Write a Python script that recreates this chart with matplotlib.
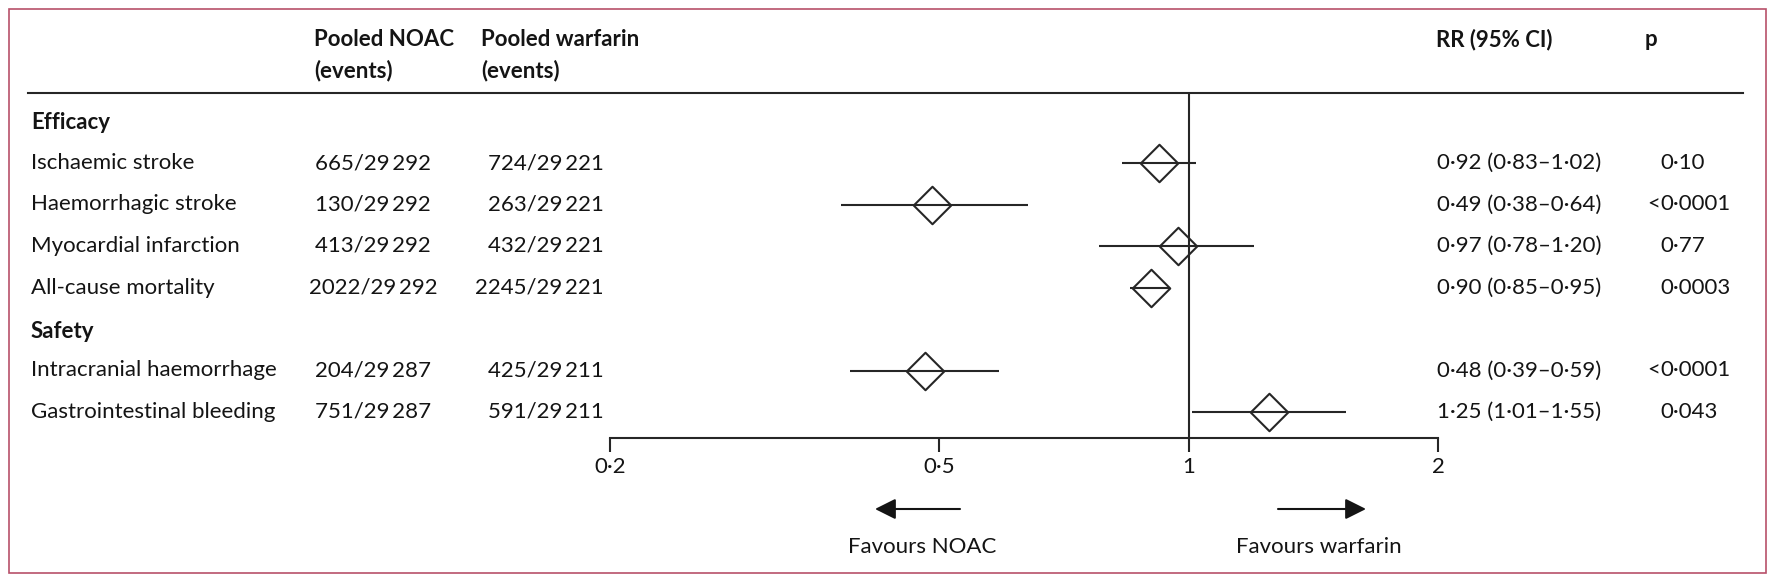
import matplotlib
matplotlib.use("Agg")
import matplotlib.pyplot as plt
from matplotlib.path import Path
from matplotlib.transforms import Affine2D
from matplotlib.lines import Line2D
from matplotlib.patches import Rectangle, FancyArrowPatch

# ---- data -------------------------------------------------------------
outcomes = ["Ischaemic stroke", "Haemorrhagic stroke", "Myocardial infarction",
            "All-cause mortality", "Intracranial haemorrhage",
            "Gastrointestinal bleeding"]
sections = ["Efficacy", "Safety"]
section_of = [0, 0, 0, 0, 1, 1]
noac_events = [665, 130, 413, 2022, 204, 751]
noac_totals = [29292, 29292, 29292, 29292, 29287, 29287]
warf_events = [724, 263, 432, 2245, 425, 591]
warf_totals = [29221, 29221, 29221, 29221, 29211, 29211]
rr = [0.92, 0.49, 0.97, 0.90, 0.48, 1.25]
ci_low = [0.83, 0.38, 0.78, 0.85, 0.39, 1.01]
ci_high = [1.02, 0.64, 1.20, 0.95, 0.59, 1.55]
p_values = ["0·10", "<0·0001", "0·77", "0·0003", "<0·0001", "0·043"]
x_ticks = [0.2, 0.5, 1, 2]
x_tick_labels = ["0·2", "0·5", "1", "2"]

# ---- styling ----------------------------------------------------------
W, H, DPI = 1775, 583, 100
INK = "#141414"
LINE = "#262626"
FRAME = "#b8506a"
FS = 16
plt.rcParams["font.family"] = ["Lato", "DejaVu Sans"]
plt.rcParams["text.color"] = INK


def dec(v):
    return f"{v:.2f}".replace(".", "·")


def count(n):
    s = str(n)
    if len(s) >= 5:
        return s[:-3] + "\u2009" + s[-3:]
    return s


fig = plt.figure(figsize=(W / DPI, H / DPI), dpi=DPI)
# pixel coordinates measured from the top-left corner of the figure
px = Affine2D().scale(1 / W, -1 / H).translate(0, 1) + fig.transFigure

# row layout: slot s sits at y = Y0 + STEP * s (pixels)
Y0, STEP = 121.5, 41.5
AX_TOP, AX_BOT = 93, 438
X02, X2 = 610, 1438
row_slots = [1, 2, 3, 4, 6, 7]
section_slots = [0, 5]


def slot_px(s):
    return Y0 + STEP * s


ax = fig.add_axes([X02 / W, 1 - AX_BOT / H, (X2 - X02) / W, (AX_BOT - AX_TOP) / H])
ax.set_xscale("log")
ax.set_xlim(0.2, 2)
ax.set_ylim((AX_BOT - Y0) / STEP, (AX_TOP - Y0) / STEP)
for side in ("top", "left", "right"):
    ax.spines[side].set_visible(False)
ax.spines["bottom"].set_color(LINE)
ax.spines["bottom"].set_linewidth(1.5)
ax.set_xticks(x_ticks)
ax.set_xticklabels(x_tick_labels, fontsize=FS)
ax.xaxis.set_minor_locator(matplotlib.ticker.NullLocator())
ax.tick_params(axis="x", direction="out", length=10, width=1.5, color=LINE,
               pad=4, labelcolor=INK)
ax.set_yticks([])
ax.patch.set_alpha(0)

# line of no effect
ax.axvline(1, color=LINE, lw=1.5, zorder=1)

diamond = Path([(0, 1), (1, 0), (0, -1), (-1, 0), (0, 1)],
               [Path.MOVETO, Path.LINETO, Path.LINETO, Path.LINETO, Path.CLOSEPOLY])
for i in range(len(outcomes)):
    y = row_slots[i]
    ax.plot([ci_low[i], ci_high[i]], [y, y], color=LINE, lw=1.5,
            solid_capstyle="butt", zorder=2)
    ax.plot([rr[i]], [y], marker=diamond, ms=27, mfc="none", mec=LINE,
            mew=1.5, zorder=3, clip_on=False)

# ---- table text -------------------------------------------------------
X_LABEL, X_NOAC, X_WARF_R, X_RR, X_P = 31, 373, 604, 1519, 1660
for txt, x, y in [("Pooled NOAC", 314, 40), ("(events)", 314, 71),
                  ("Pooled warfarin", 481, 40), ("(events)", 481, 71),
                  ("RR (95% CI)", 1436, 40), ("p", 1645, 40)]:
    fig.text(x, y, txt, transform=px, fontsize=FS, fontweight="bold",
             ha="left", va="center")

for name, s in zip(sections, section_slots):
    fig.text(X_LABEL, slot_px(s) + (1 if s == 0 else 3), name, transform=px,
             fontsize=FS, fontweight="bold", ha="left", va="center")

for i, name in enumerate(outcomes):
    y = slot_px(row_slots[i])
    fig.text(X_LABEL, y, name, transform=px, fontsize=FS, ha="left", va="center")
    fig.text(X_NOAC, y, f"{count(noac_events[i])}/{count(noac_totals[i])}",
             transform=px, fontsize=FS, ha="center", va="center")
    fig.text(X_WARF_R, y, f"{count(warf_events[i])}/{count(warf_totals[i])}",
             transform=px, fontsize=FS, ha="right", va="center")
    fig.text(X_RR, y, f"{dec(rr[i])} ({dec(ci_low[i])}–{dec(ci_high[i])})",
             transform=px, fontsize=FS, ha="center", va="center")
    p = p_values[i]
    if p.startswith("<"):
        fig.text(X_P, y, "<", transform=px, fontsize=FS, ha="right", va="center")
        p = p[1:]
    fig.text(X_P, y, p, transform=px, fontsize=FS, ha="left", va="center")

# header rule
fig.add_artist(Line2D([28, 1743], [AX_TOP, AX_TOP], transform=px,
                      color=LINE, lw=1.5))

# direction arrows
arrow_kw = dict(arrowstyle="-|>,head_length=0.9,head_width=0.45",
                mutation_scale=14, color=INK, lw=1.5, shrinkA=0, shrinkB=0)
fig.add_artist(FancyArrowPatch((960, 509), (875, 509), transform=px, **arrow_kw))
fig.add_artist(FancyArrowPatch((1278, 509), (1366, 509), transform=px, **arrow_kw))
fig.text(922, 547, "Favours NOAC", transform=px, fontsize=FS, ha="center", va="center")
fig.text(1319, 547, "Favours warfarin", transform=px, fontsize=FS, ha="center", va="center")

# outer frame
fig.add_artist(Rectangle((9, 9), 1757, 564, transform=px, fill=False,
                         edgecolor=FRAME, lw=1.2))

fig.savefig("out.png", dpi=DPI)
